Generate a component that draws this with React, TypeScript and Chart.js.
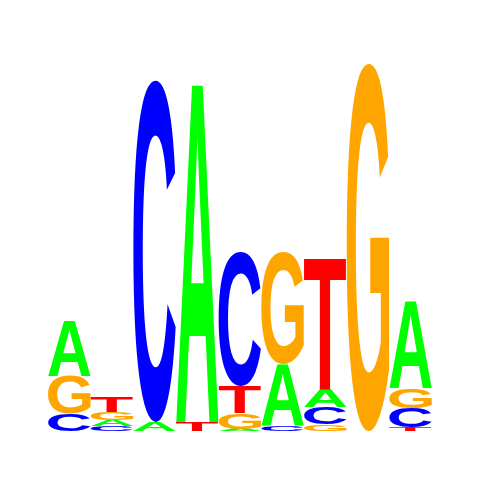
import React, { useEffect, useRef } from 'react';
import { Chart, registerables } from 'chart.js';

Chart.register(...registerables);

// sequence logo, heights in bits per position
const positions = ['1', '2', '3', '4', '5', '6', '7', '8', '9'];
const letters = ['A', 'C', 'G', 'T'];
const heightA = [0.28, 0.03, 0.045, 1.71, 0.01, 0.31, 0.09, 0, 0.44];
const heightC = [0.085, 0.025, 1.71, 0, 0.67, 0.025, 0.085, 0, 0.095];
const heightG = [0.19, 0.04, 0, 0, 0.08, 0.56, 0.035, 1.84, 0.1];
const heightT = [0, 0.08, 0, 0.045, 0.135, 0, 0.66, 0, 0.02];
const letterColors: Record<string, string> = { A: '#00ff00', C: '#0000ff', G: '#ffa500', T: '#ff0000' };

const FONT = 'bold 100px "Liberation Sans", Arial, sans-serif';

// for each position, sort letters by height so the tallest sits on top
function buildStacks() {
  const all = [heightA, heightC, heightG, heightT];
  const rankValues: number[][] = [[], [], [], []];
  const rankLetters: string[][] = [[], [], [], []];
  positions.forEach((_, i) => {
    const order = letters
      .map((l, k) => ({ l, v: all[k][i] }))
      .sort((a, b) => a.v - b.v);
    order.forEach((o, r) => {
      rankValues[r].push(o.v);
      rankLetters[r].push(o.l);
    });
  });
  return { rankValues, rankLetters };
}

const logoLetters = {
  id: 'logoLetters',
  afterDatasetsDraw(chart: any) {
    const ctx = chart.ctx as CanvasRenderingContext2D;
    const stacks: string[][] = chart.options.plugins.logoLetters.stacks;
    ctx.save();
    ctx.font = FONT;
    ctx.textAlign = 'left';
    ctx.textBaseline = 'alphabetic';
    chart.data.datasets.forEach((_: any, di: number) => {
      const meta = chart.getDatasetMeta(di);
      meta.data.forEach((bar: any, i: number) => {
        const { x, y, base, width } = bar.getProps(['x', 'y', 'base', 'width'], true);
        const h = base - y;
        if (h < 0.5) return;
        const letter = stacks[di][i];
        const m = ctx.measureText(letter);
        const gw = m.actualBoundingBoxLeft + m.actualBoundingBoxRight;
        const gh = m.actualBoundingBoxAscent + m.actualBoundingBoxDescent;
        ctx.save();
        ctx.translate(x - width / 2, y);
        ctx.scale(width / gw, h / gh);
        ctx.fillStyle = letterColors[letter];
        ctx.fillText(letter, m.actualBoundingBoxLeft, m.actualBoundingBoxAscent);
        ctx.restore();
      });
    });
    ctx.restore();
  }
};

export default function App() {
  const canvasRef = useRef<HTMLCanvasElement>(null);
  const chartRef = useRef<Chart | null>(null);

  useEffect(() => {
    document.body.style.margin = '0';
    if (!canvasRef.current) return;
    const ctx = canvasRef.current.getContext('2d');
    if (!ctx) return;
    if (chartRef.current) chartRef.current.destroy();

    const { rankValues, rankLetters } = buildStacks();

    chartRef.current = new Chart(ctx, {
      type: 'bar',
      data: {
        labels: positions,
        datasets: rankValues.map((vals, r) => ({
          label: 'rank ' + r,
          data: vals,
          backgroundColor: 'rgba(0,0,0,0)',
          borderWidth: 0,
          barPercentage: 1,
          categoryPercentage: 1
        }))
      },
      options: {
        animation: false,
        responsive: false,
        maintainAspectRatio: false,
        layout: { padding: { left: 48, right: 48, top: 31, bottom: 49 } },
        scales: {
          x: { stacked: true, display: false },
          y: { stacked: true, display: false, min: 0, max: 2 }
        },
        plugins: {
          legend: { display: false },
          tooltip: { enabled: false },
          logoLetters: { stacks: rankLetters }
        } as any
      },
      plugins: [logoLetters]
    });

    return () => {
      if (chartRef.current) chartRef.current.destroy();
    };
  }, []);

  return (
    <div style={{ width: '480px', height: '480px', background: '#fff' }}>
      <canvas ref={canvasRef} width={480} height={480} />
    </div>
  );
}
